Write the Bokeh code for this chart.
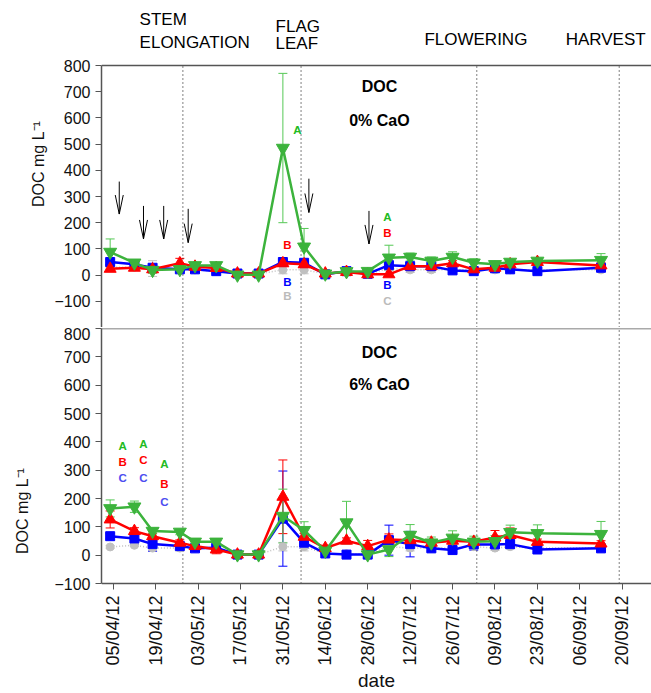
import numpy as np
import pandas as pd
from bokeh.plotting import figure
from bokeh.models import (ColumnDataSource, Whisker, TeeHead, Span, FixedTicker,
                          DatetimeTickFormatter, Range1d)
from bokeh.layouts import column
from bokeh.embed import file_html
from bokeh.resources import INLINE
from bokeh.core.properties import value

# ---------------- data ----------------
dates = ["2012-04-04", "2012-04-12", "2012-04-18", "2012-04-27", "2012-05-02", "2012-05-09",
         "2012-05-16", "2012-05-23", "2012-05-31", "2012-06-07", "2012-06-14", "2012-06-21",
         "2012-06-28", "2012-07-05", "2012-07-12", "2012-07-19", "2012-07-26", "2012-08-02",
         "2012-08-09", "2012-08-14", "2012-08-23", "2012-09-13"]

# panel 1 : 0% CaO
top_green = [88, 47, 19, 22, 37, 37, 1, 1, 485, 108, 5, 14, 15, 66, 69, 54, 69, 47, 41, 50, 54, 57]
top_green_err = [50, 10, 12, 10, 8, 10, 3, 3, 285, 70, 5, 5, 8, 48, 15, 15, 20, 15, 10, 8, 10, 25]
top_red = [24, 28, 22, 45, 32, 27, 6, 6, 45, 41, 6, 12, 3, 3, 34, 34, 45, 22, 28, 41, 50, 37]
top_red_err = [8, 8, 10, 19, 8, 8, 3, 3, 10, 10, 3, 5, 3, 3, 8, 8, 10, 8, 8, 8, 8, 10]
top_blue = [50, 41, 28, 22, 22, 15, 6, 6, 50, 47, 3, 15, 5, 38, 34, 34, 18, 15, 26, 22, 15, 28]
top_blue_err = [10, 8, 8, 8, 8, 8, 3, 3, 10, 10, 3, 5, 3, 10, 8, 8, 8, 8, 8, 8, 8, 8]
top_grey = [30, 30, 25, 20, 20, 15, 5, 5, 20, 20, 5, 10, 5, 25, 20, 20, 20, 20, 20, 20, 20, 20]
top_grey_err = [5, 5, 30, 5, 5, 5, 3, 3, 15, 15, 3, 3, 3, 5, 10, 10, 5, 5, 5, 5, 5, 5]

# panel 2 : 6% CaO
bot_green = [165, 171, 85, 82, 47, 47, 2, 2, 138, 88, 15, 115, 2, 20, 71, 44, 61, 47, 49, 81, 77, 74]
bot_green_err = [30, 20, 10, 10, 8, 8, 3, 3, 95, 30, 10, 75, 10, 25, 37, 20, 25, 20, 20, 25, 30, 45]
bot_red = [126, 85, 67, 44, 32, 20, 2, 2, 206, 65, 25, 51, 32, 55, 53, 44, 51, 47, 62, 71, 47, 41]
bot_red_err = [30, 12, 10, 10, 8, 15, 3, 3, 130, 12, 10, 10, 20, 20, 10, 10, 10, 10, 25, 25, 10, 10]
bot_blue = [67, 59, 39, 32, 24, 26, 2, 2, 129, 44, 6, 2, 2, 53, 39, 24, 18, 38, 38, 39, 20, 24]
bot_blue_err = [10, 20, 25, 10, 10, 10, 3, 3, 168, 20, 5, 5, 5, 53, 45, 10, 8, 20, 12, 15, 8, 8]
bot_grey = [29, 35, 25, 25, 25, 25, 2, 2, 30, 30, 5, 5, 5, 30, 25, 25, 25, 30, 25, 30, 25, 25]
bot_grey_err = [5, 5, 10, 10, 5, 5, 3, 3, 15, 15, 3, 3, 3, 5, 10, 10, 5, 5, 8, 8, 5, 8]

tick_dates = ["2012-04-05", "2012-04-19", "2012-05-03", "2012-05-17", "2012-05-31", "2012-06-14",
              "2012-06-28", "2012-07-12", "2012-07-26", "2012-08-09", "2012-08-23", "2012-09-06",
              "2012-09-20"]
y_ticks = [-100, 0, 100, 200, 300, 400, 500, 600, 700, 800]

phase_dates = ["2012-04-28", "2012-06-06", "2012-08-03", "2012-09-19"]
phase_text = ["STEM", "ELONGATION", "FLAG", "LEAF", "FLOWERING", "HARVEST"]
phase_text_date = ["2012-04-13 17:00", "2012-04-13 17:00", "2012-05-28 14:00", "2012-05-28 14:00",
                   "2012-07-16 17:00", "2012-09-01 08:00"]
phase_text_y = [976, 888, 949, 884, 899, 899]

arrow_dates = ["2012-04-07", "2012-04-15", "2012-04-21 16:00", "2012-04-29 18:00",
               "2012-06-08 14:00", "2012-06-28 10:00"]
arrow_top = [357, 264, 264, 253, 368, 245]
arrow_tip = [233, 138, 138, 124, 239, 119]

top_letters = ["A", "B", "B", "B", "A", "B", "B", "C"]
top_letters_date = ["2012-06-04 19:00", "2012-06-01 12:00", "2012-06-01 12:00", "2012-06-01 12:00",
                    "2012-07-04 12:00", "2012-07-04 12:00", "2012-07-04 12:00", "2012-07-04 12:00"]
top_letters_y = [552, 115, -27, -80, 222, 161, -38, -100]
top_letters_color = ["#22bb22", "#ff0000", "#0000ff", "#bbbbbb",
                     "#22bb22", "#ff0000", "#0000ff", "#bbbbbb"]

bot_letters = ["A", "B", "C", "A", "C", "C", "A", "B", "C"]
bot_letters_date = ["2012-04-08 02:00"] * 3 + ["2012-04-15 00:00"] * 3 + ["2012-04-21 22:00"] * 3
bot_letters_y = [385, 328, 272, 392, 335, 272, 321, 251, 187]
bot_letters_color = ["#22bb22", "#ff0000", "#4c4cf0"] * 3

panel_title_date = "2012-07-01 21:00"

GREEN = "#3cb33c"
RED = "#ff0000"
BLUE = "#0000ff"
GREY = "#c0c0c0"
AXIS = "#555555"
FONT = "Liberation Sans"

DAY_MS = 86400000.0


def ms(d):
    return pd.Timestamp(d).value / 1e6


x_dates = [ms(d) for d in dates]
x_start = ms("2012-04-05") - 3.86 * DAY_MS
x_end = x_start + (550 / 3.03) * DAY_MS

# top panel frame also covers the heading area (65 px above the 800 line)
TOP_Y_END = 800 + 65 * 1000 / 262
# bottom panel frame runs to the page bottom; the date axis sits at -100
BOT_Y_START = 800 - 365 * 900 / 255


def make_fig(height, y0, y1, ybot, ytop, btop):
    p = figure(width=651, height=height, x_range=Range1d(x_start, x_end),
               y_range=Range1d(y0, y1), x_axis_type="datetime",
               output_backend="svg", toolbar_location=None,
               min_border_left=101, min_border_right=0,
               min_border_top=btop, min_border_bottom=0)
    p.outline_line_color = None
    p.grid.visible = False
    p.background_fill_color = "white"
    p.border_fill_color = "white"
    p.yaxis.bounds = (ybot, ytop)
    p.yaxis.ticker = FixedTicker(ticks=y_ticks)
    p.yaxis.major_label_text_font = FONT
    p.yaxis.major_label_text_font_size = "16px"
    p.yaxis.major_label_text_color = "#111111"
    p.yaxis.major_tick_out = 6
    p.yaxis.major_tick_in = 0
    p.yaxis.minor_tick_line_color = None
    p.yaxis.axis_line_color = AXIS
    p.yaxis.axis_line_width = 1.5
    p.yaxis.major_tick_line_color = AXIS
    p.yaxis.axis_label = "DOC mg L\u207b\u00b9"
    p.yaxis.axis_label_text_font = FONT
    p.yaxis.axis_label_text_font_size = "16px"
    p.yaxis.axis_label_text_font_style = "normal"
    p.yaxis.axis_label_text_color = "#111111"
    p.add_layout(Span(location=ytop, dimension="width", line_color=AXIS, line_width=1.5))
    px = [ms(d) for d in phase_dates]
    p.segment(px, [ybot] * len(px), px, [ytop] * len(px), line_color="black",
              line_width=1, line_dash="1 3")
    return p


def add_series(p, ys, errs, color, errcolor, marker, size, dash="solid", lw=2.5):
    src = ColumnDataSource(dict(x=x_dates, y=ys,
                                lo=[a - b for a, b in zip(ys, errs)],
                                hi=[a + b for a, b in zip(ys, errs)]))
    p.add_layout(Whisker(source=src, base="x", upper="hi", lower="lo",
                         line_color=errcolor, line_width=1,
                         upper_head=TeeHead(size=9, line_color=errcolor, line_width=1),
                         lower_head=TeeHead(size=9, line_color=errcolor, line_width=1)))
    p.line("x", "y", source=src, line_color=color, line_width=lw, line_dash=dash)
    p.scatter("x", "y", source=src, marker=marker, size=size, fill_color=color,
              line_color=color)


def add_panel(p, g, ge, r, re, b, be, gr, gre):
    add_series(p, gr, gre, GREY, GREY, "circle", 8, dash="1 2", lw=1.5)
    add_series(p, b, be, BLUE, BLUE, "square", 9)
    add_series(p, r, re, RED, RED, "triangle", 12)
    add_series(p, g, ge, GREEN, "#55c855", "inverted_triangle", 13)


# ---------------- top panel ----------------
p1 = make_fig(327, -200, TOP_Y_END, -200, 800, 0)
p1.xaxis.visible = False
p1.yaxis.axis_label_standoff = 4
add_panel(p1, top_green, top_green_err, top_red, top_red_err, top_blue, top_blue_err,
          top_grey, top_grey_err)

tl = ColumnDataSource(dict(x=[ms(d) for d in top_letters_date], y=top_letters_y,
                           t=top_letters, c=top_letters_color))
p1.text("x", "y", text="t", source=tl, text_color="c", text_font=value(FONT),
        text_font_style="bold", text_font_size="11.5px", text_align="center",
        text_baseline="middle")
p1.text([ms(panel_title_date)] * 2, [720, 590], text=["DOC", "0% CaO"], text_color="black",
        text_font=value(FONT), text_font_style="bold", text_font_size="16px",
        text_align="center", text_baseline="middle")

# arrows
hx = 4 / 3.03 * DAY_MS
hy = 19 / 0.262
ax = [ms(d) for d in arrow_dates]
p1.segment(ax, arrow_top, ax, arrow_tip, line_color="black", line_width=1)
p1.segment(ax, arrow_tip, [a - hx for a in ax], [t + hy for t in arrow_tip],
           line_color="black", line_width=1)
p1.segment(ax, arrow_tip, [a + hx for a in ax], [t + hy for t in arrow_tip],
           line_color="black", line_width=1)

# growth stage headings
p1.text([ms(d) for d in phase_text_date], phase_text_y, text=phase_text, text_color="black",
        text_font=value(FONT), text_font_size="17px", text_align="left",
        text_baseline="middle")

# ---------------- bottom panel ----------------
p2 = make_fig(366, BOT_Y_START, 800, -100, 800, 1)
p2.yaxis.axis_label_standoff = 20
add_panel(p2, bot_green, bot_green_err, bot_red, bot_red_err, bot_blue, bot_blue_err,
          bot_grey, bot_grey_err)
bl = ColumnDataSource(dict(x=[ms(d) for d in bot_letters_date], y=bot_letters_y,
                           t=bot_letters, c=bot_letters_color))
p2.text("x", "y", text="t", source=bl, text_color="c", text_font=value(FONT),
        text_font_style="bold", text_font_size="11.5px", text_align="center",
        text_baseline="middle")
p2.text([ms(panel_title_date)] * 2, [717, 604], text=["DOC", "6% CaO"], text_color="black",
        text_font=value(FONT), text_font_style="bold", text_font_size="16px",
        text_align="center", text_baseline="middle")

p2.xaxis.fixed_location = -100
p2.xaxis.ticker = FixedTicker(ticks=[ms(d) for d in tick_dates])
fmt = "%d/%m/%y"
p2.xaxis.formatter = DatetimeTickFormatter(milliseconds=fmt, seconds=fmt, minsec=fmt,
                                           minutes=fmt, hourmin=fmt, hours=fmt, days=fmt,
                                           months=fmt, years=fmt)
p2.xaxis.major_label_orientation = np.pi / 2
p2.xaxis.major_label_text_font = FONT
p2.xaxis.major_label_text_font_size = "18px"
p2.xaxis.major_label_text_color = "#111111"
p2.xaxis.major_label_standoff = 6
p2.xaxis.major_tick_out = 6
p2.xaxis.major_tick_in = 0
p2.xaxis.minor_tick_line_color = None
p2.xaxis.axis_line_color = AXIS
p2.xaxis.axis_line_width = 1.5
p2.xaxis.major_tick_line_color = AXIS
p2.xaxis.axis_label = "date"
p2.xaxis.axis_label_text_font = FONT
p2.xaxis.axis_label_text_font_size = "19px"
p2.xaxis.axis_label_text_font_style = "normal"
p2.xaxis.axis_label_text_color = "#111111"
p2.xaxis.axis_label_standoff = 1

layout = column(p1, p2, spacing=0)
open("out.html", "w").write(file_html(layout, INLINE))
